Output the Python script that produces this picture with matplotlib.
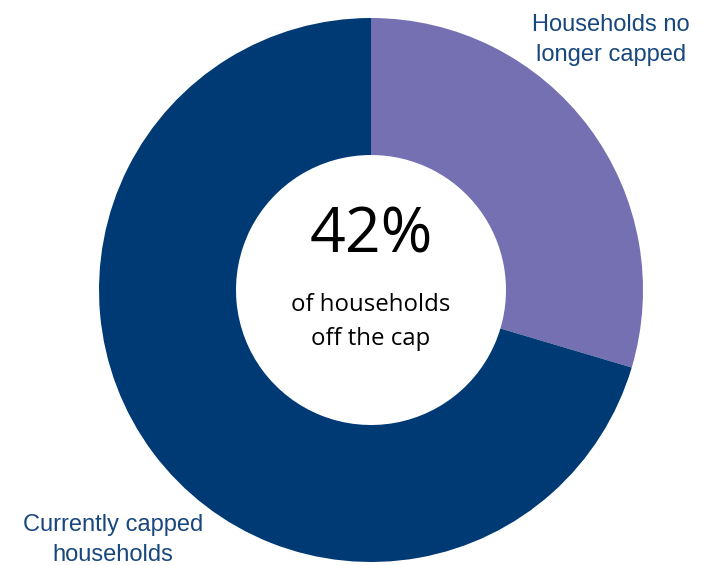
import matplotlib
import matplotlib.pyplot as plt

matplotlib.use("Agg")

# Share of households (slices drawn clockwise from 12 o'clock)
labels = ["Households no\nlonger capped", "Currently capped\nhouseholds"]
shares = [29.6, 70.4]
headline = "42%"
subtitle = "of households\noff the cap"

PURPLE = "#7470B2"
NAVY = "#003A75"
LABEL_BLUE = "#17477D"

W, H = 713, 565
fig = plt.figure(figsize=(W / 100, H / 100), dpi=100)
ax = fig.add_axes([0, 0, 1, 1])

cx, cy = 371, H - 290
r_out, r_in = 272, 135
ax.pie(
    shares,
    colors=[PURPLE, NAVY],
    startangle=90,
    counterclock=False,
    radius=r_out,
    center=(cx, cy),
    wedgeprops=dict(width=r_out - r_in, linewidth=0),
    frame=True,
)
ax.set_xlim(0, W)
ax.set_ylim(0, H)
ax.set_aspect("equal")
ax.axis("off")

ax.text(cx, H - 236, headline, ha="center", va="center",
        fontsize=45, family="Open Sans", color="black")
ax.text(cx, H - 322, subtitle, ha="center", va="center",
        fontsize=17.3, family="Open Sans", color="black", linespacing=1.55)

ax.text(611, H - 40, labels[0], ha="center", va="center",
        fontsize=17, family="Liberation Sans", color=LABEL_BLUE, linespacing=1.42)
ax.text(113, H - 540, labels[1], ha="center", va="center",
        fontsize=17, family="Liberation Sans", color=LABEL_BLUE, linespacing=1.42)

fig.savefig("out.png", dpi=100)
